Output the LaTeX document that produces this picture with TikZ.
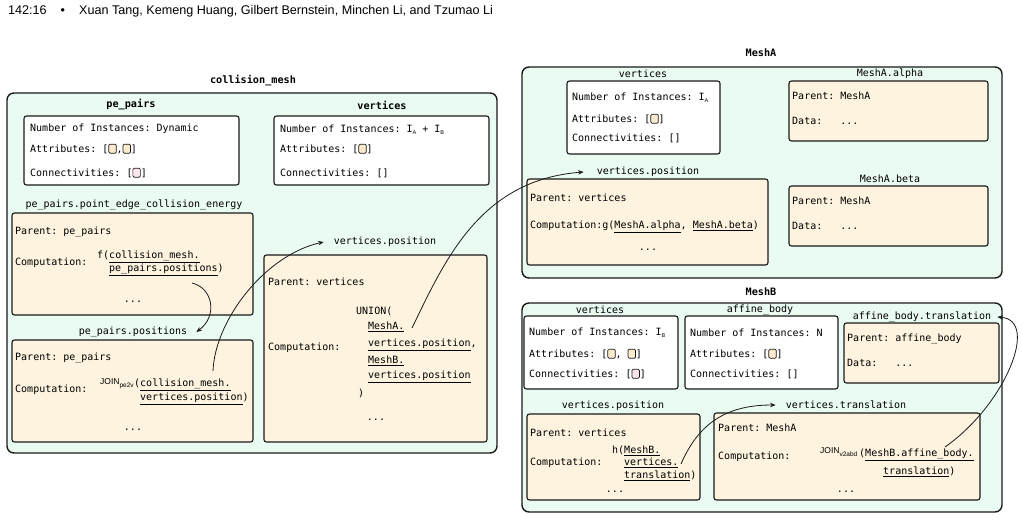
\documentclass[tikz,border=0pt]{standalone}
\usepackage{fontspec}
\setmainfont{DejaVu Sans Mono}
\newfontfamily\hdr{Liberation Sans}
\newfontfamily\sansf{Liberation Sans}
\usetikzlibrary{fit,arrows.meta}
\definecolor{mint}{HTML}{EAFBF1}
\definecolor{cream}{HTML}{FDF3DF}
\definecolor{sqy}{HTML}{FBEACB}
\definecolor{sqp}{HTML}{FCE4EF}
\definecolor{ink}{HTML}{1A1A1A}
\frenchspacing
\newcommand\sqY{\tikz[baseline=0pt]\draw[draw=ink,line width=0.7pt,rounded corners=1.2pt,fill=sqy] (0.5pt,-0.5pt) rectangle (8pt,8.5pt);}
\newcommand\sqP{\tikz[baseline=0pt]\draw[draw=ink,line width=0.7pt,rounded corners=1.2pt,fill=sqp] (0.5pt,-0.5pt) rectangle (8pt,8.5pt);}
\newcommand\sub[1]{\raisebox{-1.8pt}{\sansf\fontsize{5.5}{6}\selectfont #1}}
\newcommand\joinop[1]{\raisebox{2.2pt}{\sansf\fontsize{8.5}{9}\selectfont JOIN}\raisebox{-1.2pt}{\sansf\fontsize{6.5}{7}\selectfont #1}}
\begin{document}
\begin{tikzpicture}[x=1pt,y=-1pt,
  outer/.style={draw=ink, line width=1.4pt, rounded corners=7pt, fill=mint, inner sep=0pt},
  wbox/.style={draw=ink, line width=1.1pt, rounded corners=2.5pt, fill=white, inner sep=0pt},
  ybox/.style={wbox, fill=cream},
  txt/.style={anchor=west, inner sep=0pt, font=\frenchspacing\fontsize{10}{12}\selectfont},
  ctr/.style={txt, anchor=center},
  lbl/.style={ctr},
  ttl/.style={ctr, font=\fontsize{10.2}{12}\selectfont\bfseries},
  arr/.style={draw=ink, line width=0.8pt, -{Stealth[length=5.5pt,width=4.5pt]}}]
\useasboundingbox (0,0) rectangle (1022,521);
\fill[white] (0,0) rectangle (1022,521);
% header
\node[txt, font=\hdr\fontsize{12.6}{14}\selectfont] (hdr) at (8,11) {142:16\hspace{14pt}•\hspace{14pt}Xuan Tang, Kemeng Huang, Gilbert Bernstein, Minchen Li, and Tzumao Li};
% ---------------- collision_mesh
\node[ttl] (cmt) at (253,81) {collision\_mesh};
\node[outer, fit={(7,93) (497,453)}] (cm) {};
\node[ttl] (ppt) at (131,105) {pe\_pairs};
\node[wbox, fit={(24,116) (239,185)}] (pp) {};
\node[txt] (pp1) at (30,129) {Number of Instances: Dynamic};
\node[txt] (pp2) at (30,149) {Attributes: [\sqY,\sqY]};
\node[txt] (pp3) at (30,173) {Connectivities: [\sqP]};
\node[ttl] (cvt) at (382,105) {vertices};
\node[wbox, fit={(274,116) (489,185)}] (cv) {};
\node[txt] (cv1) at (280,130) {Number of Instances: I\sub{A} + I\sub{B}};
\node[txt] (cv2) at (280,149) {Attributes: [\sqY]};
\node[txt] (cv3) at (280,173) {Connectivities: []};
% energy
\node[lbl] (elbl) at (134,205) {pe\_pairs.point\_edge\_collision\_energy};
\node[ybox, fit={(12,213) (253,315)}] (en) {};
\node[txt] (en1) at (15,232) {Parent: pe\_pairs};
\node[txt] (en2) at (15,263) {Computation:};
\node[txt] (en3) at (97,257) {f(\underline{collision\_mesh.}};
\node[txt] (en4) at (109,270) {\underline{pe\_pairs.positions})};
\node[ctr] (en5) at (133,302) {...};
% positions
\node[lbl] (plbl) at (133,332) {pe\_pairs.positions};
\node[ybox, fit={(12,340) (253,442)}] (ps) {};
\node[txt] (ps1) at (15,358) {Parent: pe\_pairs};
\node[txt] (ps2) at (15,390) {Computation:};
\node[txt] (ps3) at (100,384) {\joinop{pe2v}};
\node[txt] (ps3b) at (134,385) {(\underline{collision\_mesh.}};
\node[txt] (ps4) at (140,399) {\underline{vertices.position})};
\node[ctr] (ps5) at (133,430) {...};
% vertices.position
\node[lbl] (vlbl) at (385,242) {vertices.position};
\node[ybox, fit={(264,255) (487,442)}] (vp) {};
\node[txt] (vp1) at (268,282) {Parent: vertices};
\node[txt] (vp2) at (356,311) {UNION(};
\node[txt] (vp3) at (368,327) {\underline{MeshA.}};
\node[txt] (vp4) at (268,348) {Computation:};
\node[txt] (vp5) at (368,345) {\underline{vertices.position},};
\node[txt] (vp6) at (368,361) {\underline{MeshB.}};
\node[txt] (vp7) at (368,377) {\underline{vertices.position}};
\node[txt] (vp8) at (358,393) {)};
\node[ctr] (vp9) at (376,420) {...};
% ---------------- MeshA
\node[ttl] (mat) at (761,53) {MeshA};
\node[outer, fit={(522,67) (1002,278)}] (ma) {};
\node[lbl] (mavt) at (643,74) {vertices};
\node[wbox, fit={(567,81) (720,154)}] (mav) {};
\node[txt] (mav1) at (572,98) {Number of Instances: I\sub{A}};
\node[txt] (mav2) at (572,119) {Attributes: [\sqY]};
\node[txt] (mav3) at (572,138) {Connectivities: []};
\node[lbl] (malt) at (890,74) {MeshA.alpha};
\node[ybox, fit={(789,81) (988,141)}] (mal) {};
\node[txt] (mal1) at (792,96) {Parent: MeshA};
\node[txt] (mal2) at (792,121) {Data:\ \ \ ...};
\node[lbl] (mbet) at (890,179) {MeshA.beta};
\node[ybox, fit={(789,186) (988,246)}] (mbe) {};
\node[txt] (mbe1) at (792,201) {Parent: MeshA};
\node[txt] (mbe2) at (792,226) {Data:\ \ \ ...};
\node[lbl] (avlbl) at (648,172) {vertices.position};
\node[ybox, fit={(527,179) (768,265)}] (avp) {};
\node[txt] (avp1) at (530,198) {Parent: vertices};
\node[txt] (avp2) at (530,227) {Computation:g(\underline{MeshA.alpha}, \underline{MeshA.beta})};
\node[ctr] (avp3) at (648,250) {...};
% ---------------- MeshB
\node[ttl] (mbt) at (761,292) {MeshB};
\node[outer, fit={(522,303) (1002,512)}] (mb) {};
\node[lbl] (mbvt) at (600,310) {vertices};
\node[wbox, fit={(524,316) (678,389)}] (mbv) {};
\node[txt] (mbv1) at (529,333) {Number of Instances: I\sub{B}};
\node[txt] (mbv2) at (529,354) {Attributes: [\sqY, \sqY]};
\node[txt] (mbv3) at (529,374) {Connectivities: [\sqP]};
\node[lbl] (abt) at (760,310) {affine\_body};
\node[wbox, fit={(685,316) (838,389)}] (ab) {};
\node[txt] (ab1) at (690,333) {Number of Instances: N};
\node[txt] (ab2) at (690,354) {Attributes: [\sqY]};
\node[txt] (ab3) at (690,374) {Connectivities: []};
\node[lbl] (attl) at (922,317) {affine\_body.translation};
\node[ybox, fit={(844,323) (999,383)}] (at) {};
\node[txt] (at1) at (847,339) {Parent: affine\_body};
\node[txt] (at2) at (847,363) {Data:\ \ \ ...};
\node[lbl] (bvlbl) at (613,406) {vertices.position};
\node[ybox, fit={(527,414) (700,500)}] (bvp) {};
\node[txt] (bvp1) at (530,433) {Parent: vertices};
\node[txt] (bvp2) at (612,451) {h(\underline{MeshB.}};
\node[txt] (bvp3) at (530,463) {Computation:};
\node[txt] (bvp4) at (624,463) {\underline{vertices.}};
\node[txt] (bvp5) at (624,476) {\underline{translation})};
\node[ctr] (bvp6) at (615,492) {...};
\node[lbl] (trlbl) at (846,405) {vertices.translation};
\node[ybox, fit={(714,413) (980,500)}] (tr) {};
\node[txt] (tr1) at (718,428) {Parent: MeshA};
\node[txt] (tr2) at (718,457) {Computation:};
\node[txt] (tr3) at (820,452) {\joinop{v2abd}};
\node[txt] (tr4) at (859,455) {(\underline{MeshB.affine\_body.}};
\node[txt] (tr5) at (883,472) {\underline{translation})};
\node[ctr] (tr6) at (846,492) {...};
% ---------------- connectors
\coordinate (s1) at (192,283);
\draw[arr] (s1) .. controls (213,288) and (218,316) .. ([xshift=9pt]plbl.east);
\coordinate (s2) at (213,371);
\draw[arr] (s2) .. controls (215,320) and (265,255) .. ([xshift=-10pt]vlbl.west);
\coordinate (s3) at (412,328);
\draw[arr] (s3) .. controls (445,260) and (480,180) .. ([xshift=-13pt]avlbl.west);
\coordinate (s4) at (681,464);
\draw[arr] (s4) .. controls (700,420) and (730,405) .. ([xshift=-10pt]trlbl.west);
\coordinate (s5) at (945,447);
\draw[arr] (s5) .. controls (1005,405) and (1040,320) .. ([xshift=6pt]attl.east);
\end{tikzpicture}
\end{document}
